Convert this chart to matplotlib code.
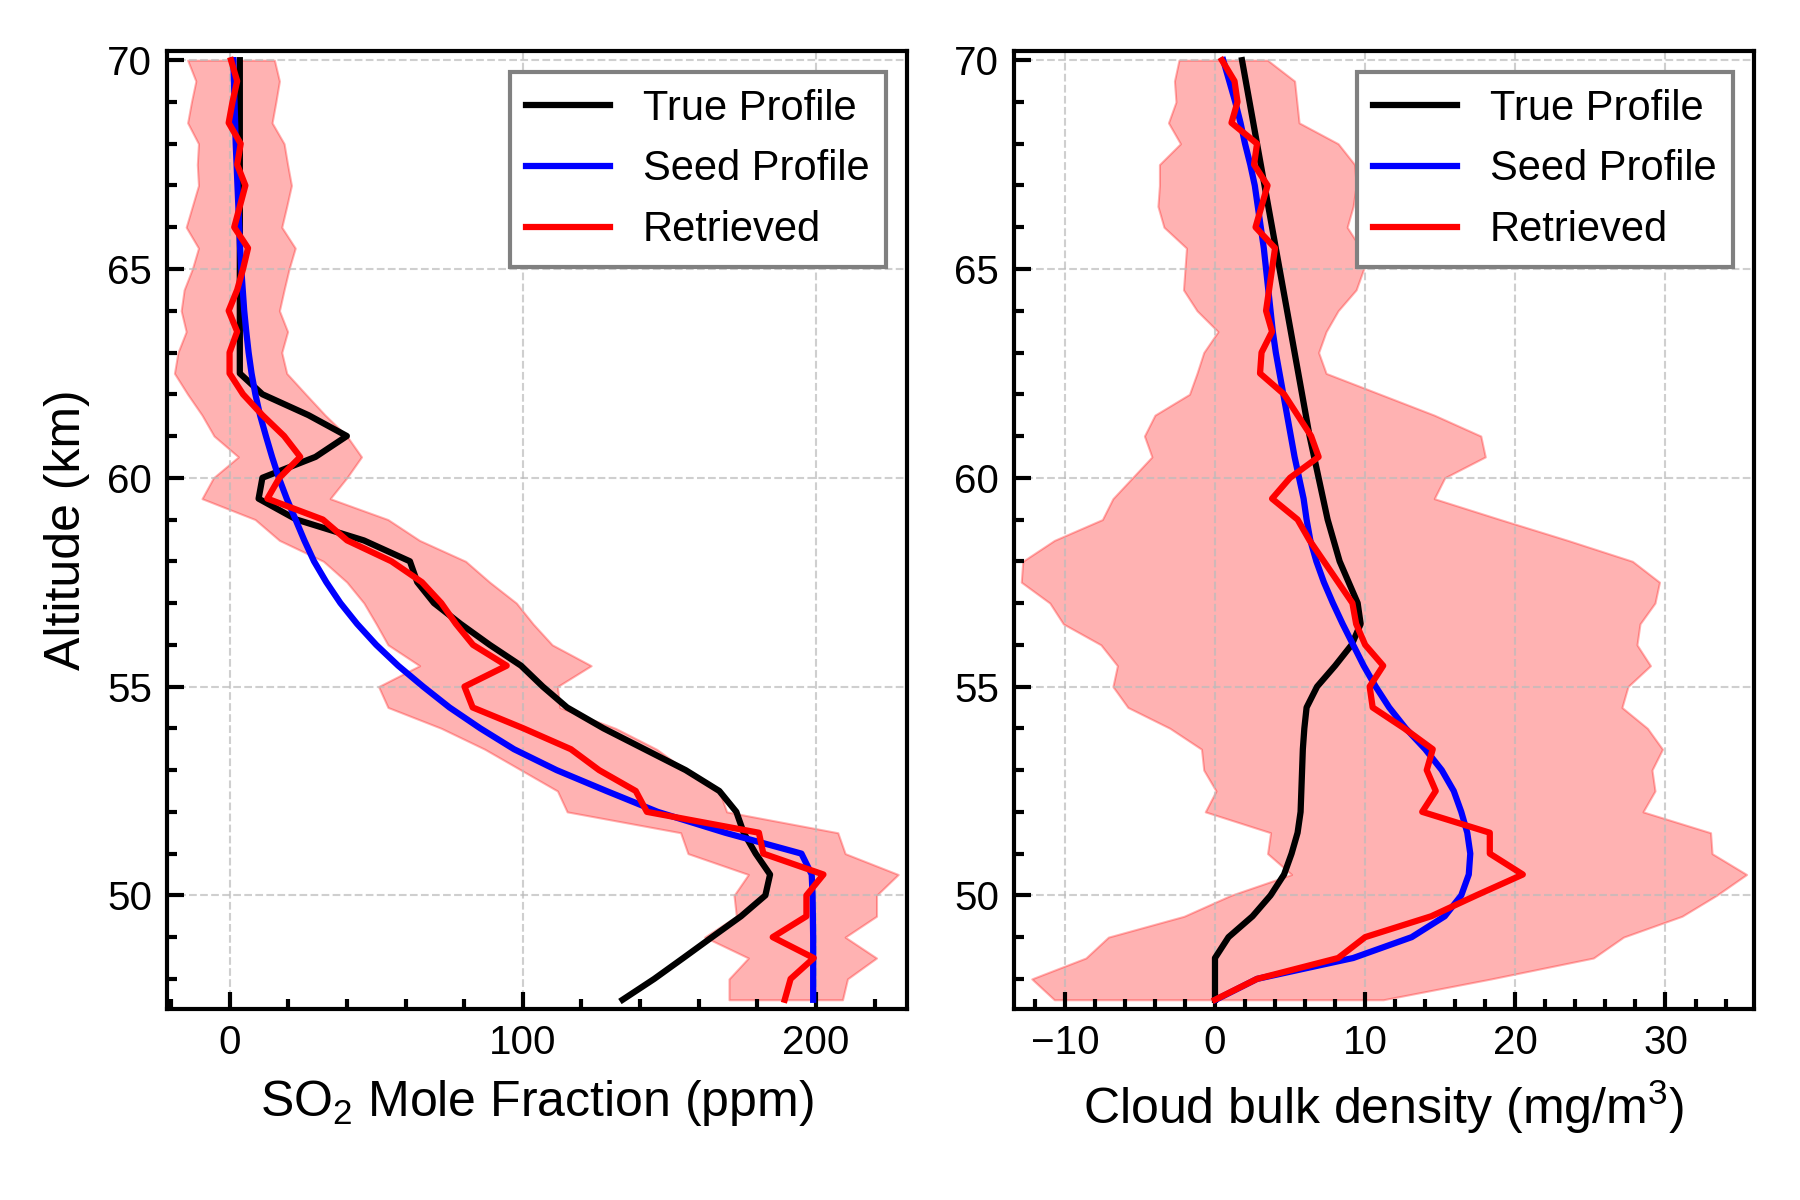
import numpy as np
import matplotlib
matplotlib.use("Agg")
import matplotlib.pyplot as plt
from matplotlib.ticker import MultipleLocator

plt.rcParams['font.family'] = ['Liberation Sans', 'DejaVu Sans']
plt.rcParams['mathtext.fontset'] = 'custom'
plt.rcParams['mathtext.rm'] = 'Liberation Sans'
plt.rcParams['mathtext.it'] = 'Liberation Sans:italic'
plt.rcParams['mathtext.default'] = 'regular'

# Altitude grid (km)
altitude = [70.0, 69.5, 69.0, 68.5, 68.0, 67.5, 67.0, 66.5, 66.0, 65.5,
            65.0, 64.5, 64.0, 63.5, 63.0, 62.5, 62.0, 61.5, 61.0, 60.5,
            60.0, 59.5, 59.0, 58.5, 58.0, 57.5, 57.0, 56.5, 56.0, 55.5,
            55.0, 54.5, 54.0, 53.5, 53.0, 52.5, 52.0, 51.5, 51.0, 50.5,
            50.0, 49.5, 49.0, 48.5, 48.0, 47.5]

# ---- SO2 panel (ppm) ----
so2_true = [3.5, 3.5, 3.5, 3.5, 3.5, 3.5, 3.5, 3.5, 3.5, 3.5,
            3.5, 3.5, 3.5, 3.5, 3.5, 3.5, 11.2, 26.9, 40.0, 29.3,
            11.2, 9.9, 22.8, 45.8, 61.5, 64.0, 69.7, 78.8, 88.7, 99.4,
            106.8, 115.1, 127.5, 141.5, 155.5, 167.0, 172.8, 175.3, 179.4, 184.3,
            182.7, 174.4, 164.5, 154.7, 144.8, 134.0]
so2_seed = [1.3, 1.5, 1.7, 1.9, 2.1, 2.4, 2.7, 3.0, 3.3, 3.6,
            4.0, 4.5, 5.0, 5.7, 6.5, 7.5, 8.8, 10.4, 12.4, 14.5,
            16.8, 19.5, 22.5, 25.5, 28.8, 33.0, 37.8, 43.5, 50.0, 57.5,
            66.0, 75.0, 85.5, 97.0, 111.5, 128.5, 146.0, 169.0, 195.0, 198.5,
            198.8, 198.9, 199.0, 199.0, 199.0, 199.0]
so2_ret = [0.5, 2.6, 1.0, -0.3, 3.8, 2.6, 5.4, 3.5, 1.6, 6.3,
           4.6, 2.6, -0.3, 2.6, 0.0, 0.0, 4.6, 11.2, 18.6, 24.1,
           17.0, 12.9, 31.8, 40.1, 55.2, 65.6, 72.2, 77.2, 83.0, 94.5,
           80.1, 82.9, 100.2, 116.4, 126.0, 138.5, 142.3, 180.5, 182.0, 202.5,
           196.7, 196.7, 185.2, 199.2, 191.3, 189.3]
so2_low = [-14.3, -11.5, -13.0, -14.3, -10.6, -11.0, -10.6, -12.7, -14.8, -10.6,
           -12.7, -15.5, -16.5, -14.8, -17.6, -18.8, -14.3, -9.4, -5.3, 3.0,
           -5.5, -9.4, 8.7, 17.0, 32.0, 40.0, 45.8, 50.0, 54.0, 64.8,
           50.8, 54.0, 72.2, 87.0, 99.4, 111.8, 115.1, 153.8, 156.3, 176.9,
           172.0, 172.8, 162.0, 176.9, 170.3, 170.3]
so2_high = [15.3, 17.0, 15.8, 14.5, 18.6, 19.8, 21.1, 19.5, 17.8, 22.4,
            20.3, 18.6, 17.0, 19.8, 17.8, 19.5, 26.0, 32.6, 40.0, 45.0,
            40.0, 34.3, 54.0, 64.8, 80.5, 88.7, 97.8, 103.5, 110.0, 123.3,
            111.8, 112.6, 131.6, 145.6, 155.5, 167.0, 169.5, 207.4, 209.9, 228.0,
            220.6, 220.6, 209.9, 220.6, 210.7, 209.0]

# ---- Cloud panel (mg/m^3) ----
cloud_true = [1.8, 2.05, 2.3, 2.55, 2.8, 3.05, 3.3, 3.55, 3.8, 4.05,
              4.3, 4.55, 4.8, 5.05, 5.3, 5.55, 5.8, 6.05, 6.3, 6.6,
              6.9, 7.2, 7.5, 7.9, 8.3, 8.9, 9.5, 9.7, 9.1, 8.0,
              6.8, 6.1, 5.95, 5.85, 5.8, 5.75, 5.7, 5.5, 5.1, 4.6,
              3.7, 2.5, 0.9, 0.0, 0.0, 0.0]
cloud_seed = [0.55, 0.95, 1.35, 1.7, 2.0, 2.35, 2.65, 2.85, 3.05, 3.25,
              3.4, 3.55, 3.7, 3.85, 4.05, 4.3, 4.55, 4.8, 5.05, 5.3,
              5.6, 5.9, 6.1, 6.35, 6.75, 7.25, 7.85, 8.5, 9.2, 9.9,
              10.7, 11.6, 12.7, 14.0, 15.1, 15.9, 16.4, 16.8, 17.0, 16.9,
              16.4, 15.3, 13.1, 9.2, 2.8, 0.05]
cloud_ret = [0.46, 1.3, 1.5, 1.1, 2.8, 2.6, 3.5, 3.1, 2.7, 4.0,
             3.8, 3.6, 3.4, 3.8, 3.1, 3.0, 4.6, 5.5, 6.4, 6.9,
             5.0, 3.8, 5.5, 6.3, 7.25, 8.2, 9.15, 9.4, 10.0, 11.2,
             10.3, 10.5, 12.6, 14.5, 14.1, 14.7, 13.8, 18.3, 18.3, 20.5,
             17.4, 14.4, 10.0, 8.2, 2.8, 0.0]
cloud_low = [-2.4, -2.7, -2.6, -3.1, -2.3, -3.7, -3.7, -3.8, -3.4, -1.9,
             -2.0, -2.1, -1.2, 0.2, -0.75, -1.2, -1.7, -4.0, -4.7, -4.2,
             -5.5, -6.8, -7.5, -10.7, -12.8, -12.9, -11.0, -10.1, -7.6, -6.5,
             -6.8, -5.8, -3.0, -0.9, -0.75, 0.07, -0.65, 3.7, 3.5, 5.1,
             1.05, -2.06, -7.1, -8.6, -12.2, -10.7]
cloud_high = [3.5, 5.3, 5.45, 5.6, 8.2, 9.3, 9.4, 9.2, 8.8, 9.7,
              9.9, 9.4, 8.2, 7.4, 6.9, 7.4, 11.0, 14.6, 17.7, 18.0,
              15.3, 14.6, 19.0, 23.5, 27.8, 29.6, 29.3, 28.3, 28.1, 29.0,
              27.5, 27.1, 28.8, 29.8, 29.1, 29.3, 28.5, 33.0, 33.1, 35.4,
              33.4, 31.1, 27.2, 25.2, 18.4, 11.2]

labels = ['True Profile', 'Seed Profile', 'Retrieved']

fig = plt.figure(figsize=(6, 4), dpi=300)
ax1 = fig.add_axes([0.0925, 0.1592, 0.4114, 0.7983])
ax2 = fig.add_axes([0.5632, 0.1592, 0.4113, 0.7983])

lw = 1.5


def draw(ax, true, seed, ret, low, high):
    ax.fill_betweenx(altitude, low, high, color='red', alpha=0.3, linewidth=0.5)
    ax.plot(true, altitude, color='black', lw=lw, label=labels[0])
    ax.plot(seed, altitude, color='blue', lw=lw, label=labels[1])
    ax.plot(ret, altitude, color='red', lw=lw, label=labels[2])
    ax.set_ylim(47.28, 70.22)
    ax.yaxis.set_major_locator(MultipleLocator(5))
    ax.yaxis.set_minor_locator(MultipleLocator(1))
    ax.tick_params(which='both', direction='in', top=False, right=False,
                   labelsize=9.7, width=1.0)
    ax.tick_params(which='major', length=4)
    ax.tick_params(which='minor', length=2.3)
    ax.grid(True, which='major', linestyle='--', color='#bbbbbb',
            linewidth=0.5, alpha=0.7)
    for s in ax.spines.values():
        s.set_linewidth(1.0)
    leg = ax.legend(loc='upper right', fontsize=10, fancybox=False,
                    framealpha=1.0, edgecolor='gray')
    leg.get_frame().set_linewidth(1.0)


draw(ax1, so2_true, so2_seed, so2_ret, so2_low, so2_high)
ax1.set_xlim(-21.5, 231)
ax1.xaxis.set_major_locator(MultipleLocator(100))
ax1.xaxis.set_minor_locator(MultipleLocator(20))
ax1.set_xlabel('SO$_2$ Mole Fraction (ppm)', fontsize=12)
ax1.set_ylabel('Altitude (km)', fontsize=12)

draw(ax2, cloud_true, cloud_seed, cloud_ret, cloud_low, cloud_high)
ax2.set_xlim(-13.4, 35.9)
ax2.xaxis.set_major_locator(MultipleLocator(10))
ax2.xaxis.set_minor_locator(MultipleLocator(2))
ax2.set_xlabel('Cloud bulk density (mg/m$^3$)', fontsize=12)

fig.savefig('out.png', dpi=300)
